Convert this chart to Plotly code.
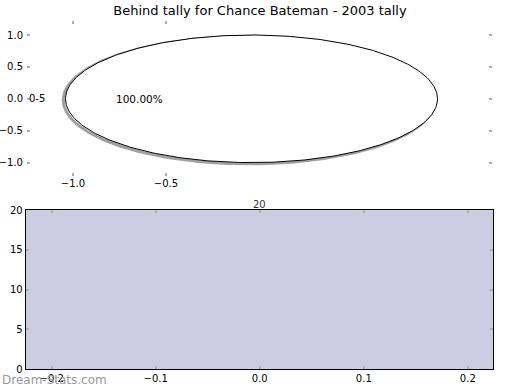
import numpy as np
import plotly.graph_objects as go

title = "Behind tally for Chance Bateman - 2003 tally"
pie_labels = ["0-5"]
pie_values = [20]
bar_x = [0.0]
bar_values = [20]
top_xticks = [-1.0, -0.5]
top_yticks = [-1.0, -0.5, 0.0, 0.5, 1.0]
bot_xticks = [-0.2, -0.1, 0.0, 0.1, 0.2]
bot_yticks = [0, 5, 10, 15, 20]

W, H = 520, 390
font = "DejaVu Sans"

fig = go.Figure()

# pie drawn as arcs on a cartesian axis (matplotlib-like)
cx, cy, r = -0.04, 0.0, 1.0
total = sum(pie_values)
start = 0.0
for lab, v in zip(pie_labels, pie_values):
    frac = v / total
    ang = np.radians(np.linspace(start, start + 360 * frac, 361))
    # shadow
    fig.add_trace(go.Scatter(x=cx - 0.012 + r * np.cos(ang), y=cy - 0.02 + r * np.sin(ang),
                             mode="lines", line=dict(color="rgba(120,120,120,0.7)", width=3),
                             xaxis="x", yaxis="y", hoverinfo="skip", showlegend=False))
    fig.add_trace(go.Scatter(x=cx + r * np.cos(ang), y=cy + r * np.sin(ang),
                             mode="lines", line=dict(color="black", width=1),
                             fill="toself", fillcolor="white",
                             xaxis="x", yaxis="y", hoverinfo="skip", showlegend=False))
    mid = np.radians(start + 180 * frac)
    fig.add_annotation(x=cx + 1.1 * r * np.cos(mid), y=cy + 1.1 * r * np.sin(mid),
                       text=lab, showarrow=False, xref="x", yref="y",
                       xanchor="right", font=dict(family=font, size=10, color="black"))
    fig.add_annotation(x=cx + 0.6 * r * np.cos(mid), y=cy + 0.6 * r * np.sin(mid),
                       text=f"{100*frac:.2f}%", showarrow=False, xref="x", yref="y",
                       font=dict(family=font, size=10.5, color="black"))
    start += 360 * frac

# bar chart
fig.add_trace(go.Bar(x=bar_x, y=bar_values, width=0.45, marker=dict(color="#ccccE3", line=dict(width=0)),
                     xaxis="x2", yaxis="y2", hoverinfo="skip", showlegend=False))
for bx, bv in zip(bar_x, bar_values):
    fig.add_annotation(x=bx, y=bv, text=str(bv), showarrow=False, xref="x2", yref="y2",
                       yanchor="bottom", yshift=-2, font=dict(family=font, size=10, color="#333"))

tick_common = dict(ticks="inside", ticklen=3, tickwidth=1.5, tickcolor="#b0b0b0",
                   tickfont=dict(family=font, size=10, color="black"),
                   showgrid=False, zeroline=False, automargin=False)

fig.update_layout(
    width=W, height=H,
    margin=dict(l=0, r=0, t=0, b=0, autoexpand=False),
    paper_bgcolor="white", plot_bgcolor="rgba(0,0,0,0)",
    title=dict(text=title, x=0.5, xanchor="center", y=1 - 10 / H, yanchor="middle",
               font=dict(family=font, size=13, color="black"), automargin=False),
    xaxis=dict(domain=[27 / W, 492 / W], range=[-1.247, 1.253], tickvals=top_xticks,
               ticktext=["\u22121.0", "\u22120.5"], showline=False, mirror="ticks", **tick_common),
    yaxis=dict(domain=[(H - 176) / H, (H - 21) / H], range=[-1.21, 1.22], tickvals=top_yticks,
               ticktext=["\u22121.0", "\u22120.5", "0.0", "0.5", "1.0"], showline=False,
               mirror="ticks", ticklabelstandoff=3, **tick_common),
    xaxis2=dict(domain=[25.7 / W, 493.3 / W], range=[-0.225, 0.2245], tickvals=bot_xticks,
                ticktext=["\u22120.2", "\u22120.1", "0.0", "0.1", "0.2"], anchor="y2",
                showline=True, linecolor="black", linewidth=1, mirror="ticks", **tick_common),
    yaxis2=dict(domain=[21 / H, (H - 210) / H], range=[0, 20], tickvals=bot_yticks, anchor="x2",
                showline=True, linecolor="black", linewidth=1, mirror="ticks", **tick_common),
)

fig.add_annotation(x=0, y=10 / H, xref="paper", yref="paper", xanchor="left", yanchor="middle",
                   text="Dream-Stats.com", showarrow=False,
                   font=dict(family=font, size=12, color="#999999"))

fig.write_html("out.html", config={"displayModeBar": False},
               post_script="document.body.style.margin='0';")
